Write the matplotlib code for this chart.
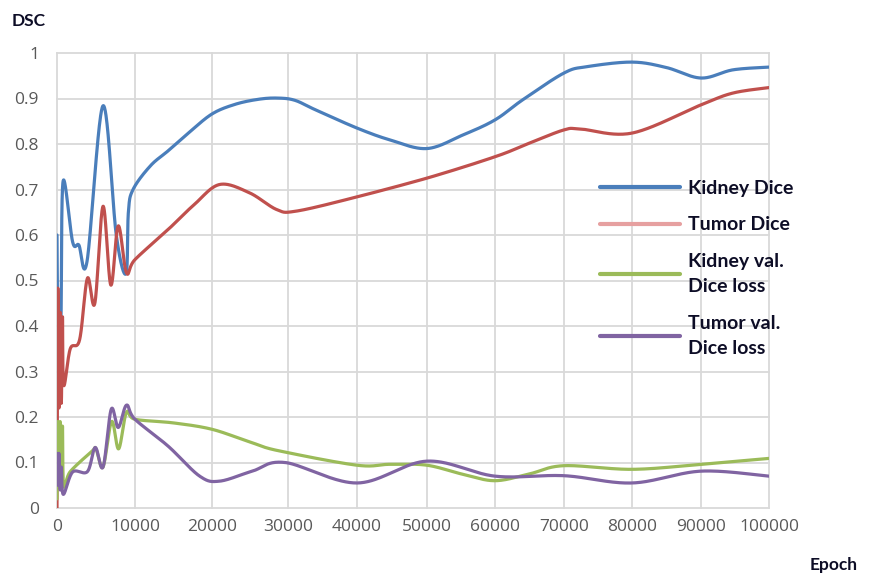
import numpy as np
import matplotlib
matplotlib.use("Agg")
import matplotlib.pyplot as plt

# ---------------- data ----------------
kidney_x = [0, 120, 500, 770, 2000, 2800, 3850, 5900, 7600, 8850, 9150, 9750, 12000, 14300, 17000, 20000, 23000, 26000, 28500, 31000, 34000, 40000, 44700, 50000, 55300, 60000, 64000, 70000, 73400, 80000, 85000, 90000, 94700, 100000]
kidney_y = [0.60, 0.41, 0.41, 0.717, 0.585, 0.578, 0.542, 0.884, 0.60, 0.515, 0.65, 0.70, 0.752, 0.785, 0.825, 0.866, 0.887, 0.898, 0.901, 0.896, 0.875, 0.835, 0.809, 0.79, 0.82, 0.853, 0.897, 0.956, 0.97, 0.98, 0.968, 0.945, 0.963, 0.969]

tumor_x = [0, 100, 250, 400, 550, 700, 850, 1700, 2900, 3900, 4850, 5900, 6900, 7850, 8900, 10000, 14300, 17700, 21000, 24900, 28500, 31000, 38500, 50000, 60000, 65000, 70000, 72400, 80000, 90000, 94700, 100000]
tumor_y = [0.0, 0.48, 0.22, 0.43, 0.23, 0.42, 0.27, 0.35, 0.37, 0.505, 0.45, 0.663, 0.49, 0.62, 0.517, 0.546, 0.612, 0.667, 0.711, 0.693, 0.656, 0.652, 0.678, 0.725, 0.772, 0.802, 0.831, 0.833, 0.824, 0.886, 0.912, 0.924]

kval_x = [0, 100, 250, 400, 550, 700, 850, 1700, 4500, 5000, 5900, 7000, 7900, 8900, 10000, 15000, 20000, 25000, 29000, 40000, 44700, 50000, 55300, 60000, 65000, 70000, 80000, 90000, 100000]
kval_y = [0.02, 0.19, 0.05, 0.19, 0.04, 0.18, 0.05, 0.08, 0.125, 0.13, 0.09, 0.19, 0.13, 0.21, 0.195, 0.187, 0.173, 0.145, 0.125, 0.094, 0.096, 0.094, 0.074, 0.06, 0.075, 0.093, 0.085, 0.096, 0.109]

tval_x = [0, 100, 250, 400, 550, 800, 2000, 3900, 4900, 5900, 6950, 7850, 8900, 10000, 14300, 18400, 21000, 25300, 29600, 40000, 50000, 60000, 70000, 80000, 90000, 100000]
tval_y = [0.12, 0.05, 0.12, 0.04, 0.09, 0.03, 0.079, 0.08, 0.133, 0.09, 0.217, 0.177, 0.226, 0.195, 0.136, 0.07, 0.059, 0.081, 0.10, 0.055, 0.103, 0.07, 0.071, 0.055, 0.081, 0.07]

labels = ["Kidney Dice", "Tumor Dice", "Kidney val.\nDice loss", "Tumor val.\nDice loss"]
x_ticks = [0, 10000, 20000, 30000, 40000, 50000, 60000, 70000, 80000, 90000, 100000]
y_ticks = [0, 0.1, 0.2, 0.3, 0.4, 0.5, 0.6, 0.7, 0.8, 0.9, 1.0]
y_tick_labels = ["0", "0.1", "0.2", "0.3", "0.4", "0.5", "0.6", "0.7", "0.8", "0.9", "1"]

# non-uniform horizontal spacing of the original axis
x_grid_pos = np.array([0, 78, 155, 231, 300, 370, 438, 507, 575, 644, 712], dtype=float)


def smooth(xs, ys, n=40):
    P = np.column_stack([xs, ys]).astype(float)
    out = []
    for i in range(len(P) - 1):
        p0 = P[i - 1] if i > 0 else P[i]
        p1, p2 = P[i], P[i + 1]
        p3 = P[i + 2] if i + 2 < len(P) else P[i + 1]
        c1 = p1 + (p2 - p0) / 6.0
        c2 = p2 - (p3 - p1) / 6.0
        t = np.linspace(0, 1, n)[:, None]
        seg = (1 - t) ** 3 * p1 + 3 * (1 - t) ** 2 * t * c1 + 3 * (1 - t) * t ** 2 * c2 + t ** 3 * p2
        out.append(seg if i == 0 else seg[1:])
    a = np.vstack(out)
    return a[:, 0], a[:, 1]


fig = plt.figure(figsize=(8.69, 5.75), dpi=100)
ax = fig.add_axes([57 / 869, 1 - 508 / 575, 712 / 869, 455 / 575])

fwd = lambda x: np.interp(x, x_ticks, x_grid_pos)
inv = lambda p: np.interp(p, x_grid_pos, x_ticks)
ax.set_xscale("function", functions=(fwd, inv))

colors = ["#4A7EBB", "#C0504D", "#9BBB59", "#8064A2"]
series = [(kidney_x, kidney_y), (tumor_x, tumor_y), (kval_x, kval_y), (tval_x, tval_y)]
handles = []
for (xs, ys), c, lab in zip(series, colors, labels):
    sx, sy = smooth(xs, ys)
    h, = ax.plot(sx, sy, color=c, lw=2.3, label=lab, solid_capstyle="round", zorder=3)
    handles.append(h)

ax.set_xlim(0, 100000)
ax.set_ylim(0, 1)
ax.set_xticks(x_ticks)
ax.set_xticklabels([str(v) for v in x_ticks])
ax.set_yticks(y_ticks)
ax.set_yticklabels(y_tick_labels)
ax.tick_params(length=0, labelsize=12.5, colors="#595959")
ax.tick_params(axis="y", pad=13)
ax.tick_params(axis="x", pad=8)
for lab in ax.get_xticklabels() + ax.get_yticklabels():
    lab.set_family("Open Sans")
ax.grid(True, color="#D9D9D9", lw=1.3, zorder=0)
for s in ax.spines.values():
    s.set_visible(False)
for gl in ax.get_xgridlines() + ax.get_ygridlines():
    gl.set_clip_on(False)

fig.text(12 / 869, 1 - 21 / 575, "DSC", fontsize=12.5, fontweight="bold", family="Lato", color="#0D0D26", va="center", ha="left")
fig.text(858 / 869, 1 - 565 / 575, "Epoch", fontsize=12.5, fontweight="bold", family="Lato", color="#0D0D26", va="center", ha="right")

leg = ax.legend(handles=handles, labels=labels, loc="upper left",
                bbox_to_anchor=((600 - 57) / 712, (508 - 180) / 455),
                frameon=False, handlelength=4.1, handletextpad=0.4, labelspacing=1.0,
                prop={"family": "Lato", "weight": "bold", "size": 14}, borderpad=0, borderaxespad=0)
for t in leg.get_texts():
    t.set_color("#0D0D26")
    t.set_linespacing(1.6)
lh = leg.legend_handles
lh[1].set_color("#E6A0A0")
for h in lh:
    h.set_linewidth(3)

fig.savefig("out.png", dpi=100)
